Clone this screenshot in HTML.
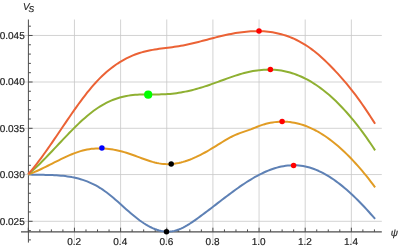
<!DOCTYPE html>
<html><head><meta charset="utf-8"><title>plot</title>
<style>html,body{margin:0;padding:0;background:#fff;}body{width:398px;height:249px;position:relative;overflow:hidden;font-family:"Liberation Sans",sans-serif;}</style>
</head><body>
<svg width="398" height="249" viewBox="0 0 398 249" style="position:absolute;left:0;top:0">
<path d="M74.45,19.5V242.6 M120.60,19.5V242.6 M166.75,19.5V242.6 M212.90,19.5V242.6 M259.05,19.5V242.6 M305.20,19.5V242.6 M351.35,19.5V242.6 M21,221.30H381.8 M21,174.55H381.8 M21,128.30H381.8 M21,82.00H381.8 M21,35.47H381.8" stroke="#c8c8c8" stroke-width="0.8" fill="none"/>
<path d="M28.4,19.5V242.6 M28.30,231.9v-4.2 M39.84,231.9v-2.5 M51.38,231.9v-2.5 M62.91,231.9v-2.5 M74.45,231.9v-4.2 M85.99,231.9v-2.5 M97.53,231.9v-2.5 M109.06,231.9v-2.5 M120.60,231.9v-4.2 M132.14,231.9v-2.5 M143.68,231.9v-2.5 M155.21,231.9v-2.5 M166.75,231.9v-4.2 M178.29,231.9v-2.5 M189.83,231.9v-2.5 M201.36,231.9v-2.5 M212.90,231.9v-4.2 M224.44,231.9v-2.5 M235.98,231.9v-2.5 M247.51,231.9v-2.5 M259.05,231.9v-4.2 M270.59,231.9v-2.5 M282.12,231.9v-2.5 M293.66,231.9v-2.5 M305.20,231.9v-4.2 M316.74,231.9v-2.5 M328.28,231.9v-2.5 M339.81,231.9v-2.5 M351.35,231.9v-4.2 M362.89,231.9v-2.5 M374.43,231.9v-2.5 M28.4,239.88h2.5 M28.4,230.59h2.5 M28.4,221.30h4.2 M28.4,211.95h2.5 M28.4,202.60h2.5 M28.4,193.25h2.5 M28.4,183.90h2.5 M28.4,174.55h4.2 M28.4,165.30h2.5 M28.4,156.05h2.5 M28.4,146.80h2.5 M28.4,137.55h2.5 M28.4,128.30h4.2 M28.4,119.04h2.5 M28.4,109.78h2.5 M28.4,100.52h2.5 M28.4,91.26h2.5 M28.4,82.00h4.2 M28.4,72.69h2.5 M28.4,63.39h2.5 M28.4,54.08h2.5 M28.4,44.78h2.5 M28.4,35.47h4.2 M28.4,26.18h2.5" stroke="#4d4d4d" stroke-width="1" fill="none"/>
<path d="M21,231.9H381.8" stroke="#4d4d4d" stroke-width="1.2" fill="none"/>
<path d="M28.20,174.53 L30.38,174.60 L32.56,174.66 L34.75,174.70 L36.93,174.74 L39.11,174.78 L41.29,174.81 L43.47,174.84 L45.65,174.88 L47.84,174.94 L50.02,175.00 L52.20,175.08 L54.38,175.18 L56.56,175.30 L58.74,175.45 L60.93,175.63 L63.11,175.85 L65.29,176.10 L67.47,176.39 L69.65,176.73 L71.84,177.11 L74.02,177.55 L76.20,178.04 L78.38,178.59 L80.56,179.19 L82.74,179.87 L84.93,180.61 L87.11,181.43 L89.29,182.32 L91.47,183.29 L93.65,184.34 L95.83,185.48 L98.02,186.71 L100.20,188.03 L102.38,189.44 L104.56,190.96 L106.74,192.57 L108.93,194.26 L111.11,196.02 L113.29,197.84 L115.47,199.71 L117.65,201.62 L119.83,203.55 L122.02,205.50 L124.20,207.45 L126.38,209.39 L128.56,211.31 L130.74,213.20 L132.92,215.05 L135.11,216.84 L137.29,218.56 L139.47,220.21 L141.65,221.77 L143.83,223.24 L146.02,224.60 L148.20,225.87 L150.38,227.02 L152.56,228.06 L154.74,228.97 L156.92,229.77 L159.11,230.42 L161.29,230.95 L163.47,231.33 L165.65,231.56 L167.83,231.63 L170.01,231.55 L172.20,231.30 L174.38,230.88 L176.56,230.29 L178.74,229.53 L180.92,228.62 L183.11,227.58 L185.29,226.41 L187.47,225.14 L189.65,223.78 L191.83,222.35 L194.01,220.87 L196.20,219.34 L198.38,217.77 L200.56,216.17 L202.74,214.56 L204.92,212.92 L207.10,211.27 L209.29,209.61 L211.47,207.94 L213.65,206.26 L215.83,204.59 L218.01,202.91 L220.19,201.23 L222.38,199.56 L224.56,197.89 L226.74,196.23 L228.92,194.59 L231.10,192.97 L233.29,191.36 L235.47,189.78 L237.65,188.22 L239.83,186.69 L242.01,185.18 L244.19,183.72 L246.38,182.28 L248.56,180.89 L250.74,179.54 L252.92,178.24 L255.10,176.98 L257.28,175.77 L259.47,174.62 L261.65,173.53 L263.83,172.49 L266.01,171.51 L268.19,170.61 L270.38,169.76 L272.56,168.98 L274.74,168.28 L276.92,167.64 L279.10,167.08 L281.28,166.58 L283.47,166.17 L285.65,165.83 L287.83,165.57 L290.01,165.38 L292.19,165.28 L294.37,165.26 L296.56,165.33 L298.74,165.47 L300.92,165.71 L303.10,166.04 L305.28,166.45 L307.47,166.95 L309.65,167.55 L311.83,168.23 L314.01,169.00 L316.19,169.86 L318.37,170.79 L320.56,171.81 L322.74,172.91 L324.92,174.09 L327.10,175.34 L329.28,176.67 L331.46,178.07 L333.65,179.54 L335.83,181.09 L338.01,182.70 L340.19,184.38 L342.37,186.12 L344.56,187.93 L346.74,189.80 L348.92,191.73 L351.10,193.71 L353.28,195.76 L355.46,197.86 L357.65,200.01 L359.83,202.21 L362.01,204.47 L364.19,206.77 L366.37,209.12 L368.55,211.52 L370.74,213.96 L372.92,216.44 L375.10,218.97" stroke="#5E81B5" stroke-width="2.0" fill="none" stroke-linejoin="round" stroke-linecap="butt"/>
<path d="M28.20,174.48 L30.38,173.68 L32.56,172.83 L34.75,171.93 L36.93,170.98 L39.11,169.99 L41.29,168.97 L43.47,167.93 L45.65,166.86 L47.84,165.77 L50.02,164.67 L52.20,163.57 L54.38,162.47 L56.56,161.37 L58.74,160.28 L60.93,159.21 L63.11,158.16 L65.29,157.13 L67.47,156.14 L69.65,155.18 L71.84,154.27 L74.02,153.41 L76.20,152.60 L78.38,151.85 L80.56,151.16 L82.74,150.55 L84.93,150.01 L87.11,149.55 L89.29,149.17 L91.47,148.86 L93.65,148.63 L95.83,148.48 L98.02,148.39 L100.20,148.38 L102.38,148.43 L104.56,148.54 L106.74,148.72 L108.93,148.96 L111.11,149.26 L113.29,149.61 L115.47,150.02 L117.65,150.48 L119.83,150.99 L122.02,151.55 L124.20,152.16 L126.38,152.81 L128.56,153.50 L130.74,154.23 L132.92,155.00 L135.11,155.79 L137.29,156.59 L139.47,157.41 L141.65,158.21 L143.83,159.01 L146.02,159.78 L148.20,160.52 L150.38,161.21 L152.56,161.86 L154.74,162.44 L156.92,162.95 L159.11,163.38 L161.29,163.72 L163.47,163.96 L165.65,164.09 L167.83,164.13 L170.01,164.07 L172.20,163.91 L174.38,163.67 L176.56,163.34 L178.74,162.93 L180.92,162.43 L183.11,161.86 L185.29,161.21 L187.47,160.49 L189.65,159.70 L191.83,158.84 L194.01,157.92 L196.20,156.95 L198.38,155.91 L200.56,154.82 L202.74,153.68 L204.92,152.50 L207.10,151.27 L209.29,150.00 L211.47,148.70 L213.65,147.37 L215.83,146.04 L218.01,144.69 L220.19,143.35 L222.38,142.01 L224.56,140.69 L226.74,139.41 L228.92,138.16 L231.10,136.99 L233.29,135.88 L235.47,134.88 L237.65,133.98 L239.83,133.16 L242.01,132.39 L244.19,131.65 L246.38,130.91 L248.56,130.15 L250.74,129.34 L252.92,128.47 L255.10,127.58 L257.28,126.70 L259.47,125.87 L261.65,125.10 L263.83,124.42 L266.01,123.81 L268.19,123.27 L270.38,122.81 L272.56,122.43 L274.74,122.12 L276.92,121.89 L279.10,121.73 L281.28,121.65 L283.47,121.65 L285.65,121.72 L287.83,121.87 L290.01,122.09 L292.19,122.40 L294.37,122.77 L296.56,123.23 L298.74,123.76 L300.92,124.36 L303.10,125.05 L305.28,125.81 L307.47,126.64 L309.65,127.56 L311.83,128.55 L314.01,129.61 L316.19,130.75 L318.37,131.96 L320.56,133.24 L322.74,134.60 L324.92,136.03 L327.10,137.53 L329.28,139.10 L331.46,140.74 L333.65,142.45 L335.83,144.23 L338.01,146.07 L340.19,147.99 L342.37,149.97 L344.56,152.01 L346.74,154.13 L348.92,156.30 L351.10,158.55 L353.28,160.85 L355.46,163.22 L357.65,165.65 L359.83,168.15 L362.01,170.70 L364.19,173.32 L366.37,175.99 L368.55,178.73 L370.74,181.52 L372.92,184.38 L375.10,187.28" stroke="#E19C24" stroke-width="2.0" fill="none" stroke-linejoin="round" stroke-linecap="butt"/>
<path d="M28.20,174.48 L30.38,172.59 L32.56,170.63 L34.75,168.61 L36.93,166.54 L39.11,164.42 L41.29,162.26 L43.47,160.06 L45.65,157.83 L47.84,155.57 L50.02,153.28 L52.20,150.98 L54.38,148.67 L56.56,146.35 L58.74,144.02 L60.93,141.70 L63.11,139.39 L65.29,137.10 L67.47,134.82 L69.65,132.56 L71.84,130.34 L74.02,128.14 L76.20,125.99 L78.38,123.88 L80.56,121.82 L82.74,119.82 L84.93,117.88 L87.11,116.00 L89.29,114.19 L91.47,112.46 L93.65,110.81 L95.83,109.24 L98.02,107.77 L100.20,106.38 L102.38,105.07 L104.56,103.85 L106.74,102.72 L108.93,101.66 L111.11,100.69 L113.29,99.79 L115.47,98.97 L117.65,98.23 L119.83,97.57 L122.02,96.97 L124.20,96.45 L126.38,96.00 L128.56,95.62 L130.74,95.30 L132.92,95.04 L135.11,94.84 L137.29,94.68 L139.47,94.57 L141.65,94.49 L143.83,94.44 L146.02,94.42 L148.20,94.41 L150.38,94.41 L152.56,94.41 L154.74,94.42 L156.92,94.41 L159.11,94.40 L161.29,94.36 L163.47,94.30 L165.65,94.20 L167.83,94.07 L170.01,93.90 L172.20,93.69 L174.38,93.44 L176.56,93.15 L178.74,92.82 L180.92,92.46 L183.11,92.07 L185.29,91.64 L187.47,91.18 L189.65,90.69 L191.83,90.16 L194.01,89.60 L196.20,89.02 L198.38,88.40 L200.56,87.76 L202.74,87.09 L204.92,86.40 L207.10,85.68 L209.29,84.94 L211.47,84.18 L213.65,83.40 L215.83,82.62 L218.01,81.82 L220.19,81.03 L222.38,80.23 L224.56,79.44 L226.74,78.65 L228.92,77.88 L231.10,77.12 L233.29,76.37 L235.47,75.65 L237.65,74.95 L239.83,74.29 L242.01,73.65 L244.19,73.05 L246.38,72.49 L248.56,71.97 L250.74,71.50 L252.92,71.08 L255.10,70.71 L257.28,70.39 L259.47,70.13 L261.65,69.92 L263.83,69.76 L266.01,69.66 L268.19,69.61 L270.38,69.63 L272.56,69.70 L274.74,69.83 L276.92,70.03 L279.10,70.28 L281.28,70.60 L283.47,70.99 L285.65,71.43 L287.83,71.95 L290.01,72.53 L292.19,73.19 L294.37,73.91 L296.56,74.70 L298.74,75.56 L300.92,76.50 L303.10,77.50 L305.28,78.58 L307.47,79.72 L309.65,80.94 L311.83,82.23 L314.01,83.59 L316.19,85.02 L318.37,86.52 L320.56,88.10 L322.74,89.74 L324.92,91.45 L327.10,93.24 L329.28,95.09 L331.46,97.02 L333.65,99.02 L335.83,101.08 L338.01,103.22 L340.19,105.43 L342.37,107.71 L344.56,110.06 L346.74,112.48 L348.92,114.98 L351.10,117.54 L353.28,120.17 L355.46,122.88 L357.65,125.65 L359.83,128.50 L362.01,131.41 L364.19,134.40 L366.37,137.45 L368.55,140.58 L370.74,143.78 L372.92,147.05 L375.10,150.39" stroke="#8FB032" stroke-width="2.0" fill="none" stroke-linejoin="round" stroke-linecap="butt"/>
<path d="M28.20,174.26 L30.38,171.72 L32.56,169.09 L34.75,166.37 L36.93,163.58 L39.11,160.71 L41.29,157.78 L43.47,154.78 L45.65,151.74 L47.84,148.65 L50.02,145.52 L52.20,142.36 L54.38,139.17 L56.56,135.97 L58.74,132.75 L60.93,129.52 L63.11,126.30 L65.29,123.08 L67.47,119.88 L69.65,116.69 L71.84,113.54 L74.02,110.41 L76.20,107.33 L78.38,104.29 L80.56,101.31 L82.74,98.38 L84.93,95.53 L87.11,92.74 L89.29,90.04 L91.47,87.42 L93.65,84.89 L95.83,82.46 L98.02,80.14 L100.20,77.92 L102.38,75.79 L104.56,73.77 L106.74,71.83 L108.93,69.99 L111.11,68.25 L113.29,66.59 L115.47,65.02 L117.65,63.54 L119.83,62.14 L122.02,60.82 L124.20,59.59 L126.38,58.43 L128.56,57.35 L130.74,56.34 L132.92,55.41 L135.11,54.55 L137.29,53.76 L139.47,53.03 L141.65,52.37 L143.83,51.77 L146.02,51.23 L148.20,50.74 L150.38,50.29 L152.56,49.89 L154.74,49.52 L156.92,49.18 L159.11,48.86 L161.29,48.56 L163.47,48.27 L165.65,48.00 L167.83,47.72 L170.01,47.44 L172.20,47.16 L174.38,46.86 L176.56,46.54 L178.74,46.20 L180.92,45.82 L183.11,45.42 L185.29,44.99 L187.47,44.53 L189.65,44.05 L191.83,43.55 L194.01,43.02 L196.20,42.49 L198.38,41.94 L200.56,41.38 L202.74,40.81 L204.92,40.23 L207.10,39.66 L209.29,39.08 L211.47,38.51 L213.65,37.94 L215.83,37.38 L218.01,36.83 L220.19,36.29 L222.38,35.77 L224.56,35.27 L226.74,34.79 L228.92,34.34 L231.10,33.90 L233.29,33.49 L235.47,33.11 L237.65,32.76 L239.83,32.44 L242.01,32.15 L244.19,31.89 L246.38,31.67 L248.56,31.49 L250.74,31.34 L252.92,31.24 L255.10,31.17 L257.28,31.15 L259.47,31.17 L261.65,31.24 L263.83,31.36 L266.01,31.53 L268.19,31.75 L270.38,32.02 L272.56,32.35 L274.74,32.73 L276.92,33.17 L279.10,33.67 L281.28,34.23 L283.47,34.85 L285.65,35.54 L287.83,36.29 L290.01,37.11 L292.19,38.00 L294.37,38.95 L296.56,39.99 L298.74,41.09 L300.92,42.27 L303.10,43.53 L305.28,44.86 L307.47,46.28 L309.65,47.77 L311.83,49.35 L314.01,51.02 L316.19,52.77 L318.37,54.60 L320.56,56.51 L322.74,58.50 L324.92,60.54 L327.10,62.65 L329.28,64.81 L331.46,67.02 L333.65,69.28 L335.83,71.58 L338.01,73.93 L340.19,76.33 L342.37,78.79 L344.56,81.32 L346.74,83.91 L348.92,86.57 L351.10,89.30 L353.28,92.10 L355.46,94.97 L357.65,97.92 L359.83,100.93 L362.01,104.01 L364.19,107.16 L366.37,110.38 L368.55,113.65 L370.74,116.99 L372.92,120.37 L375.10,123.81" stroke="#EB6235" stroke-width="2.0" fill="none" stroke-linejoin="round" stroke-linecap="butt"/>
<circle cx="259" cy="31.0" r="2.75" fill="#ff0000"/>
<circle cx="270.4" cy="69.6" r="2.75" fill="#ff0000"/>
<circle cx="282.1" cy="121.6" r="2.75" fill="#ff0000"/>
<circle cx="293.6" cy="165.4" r="2.75" fill="#ff0000"/>
<circle cx="148.2" cy="94.65" r="4.1" fill="#00ff00"/>
<circle cx="101.9" cy="147.95" r="2.75" fill="#0000ff"/>
<circle cx="171.2" cy="163.9" r="2.75" fill="#000000"/>
<circle cx="166.5" cy="231.7" r="2.75" fill="#000000"/>
<g style="will-change:transform;text-rendering:geometricPrecision" font-family="Liberation Sans, sans-serif" font-size="10" fill="#222222" stroke="#222222" stroke-width="0.2">
<text x="24.7" y="224.55" text-anchor="end">0.025</text>
<text x="24.7" y="177.80" text-anchor="end">0.030</text>
<text x="24.7" y="131.55" text-anchor="end">0.035</text>
<text x="24.7" y="85.25" text-anchor="end">0.040</text>
<text x="24.7" y="38.72" text-anchor="end">0.045</text>
<text x="74.10" y="245" text-anchor="middle">0.2</text>
<text x="120.25" y="245" text-anchor="middle">0.4</text>
<text x="166.40" y="245" text-anchor="middle">0.6</text>
<text x="212.55" y="245" text-anchor="middle">0.8</text>
<text x="258.70" y="245" text-anchor="middle">1.0</text>
<text x="304.85" y="245" text-anchor="middle">1.2</text>
<text x="351.00" y="245" text-anchor="middle">1.4</text>
</g>
<g style="will-change:transform;text-rendering:geometricPrecision" font-family="Liberation Sans, sans-serif" font-style="italic" fill="#222222" stroke="#222222" stroke-width="0.15">
<text x="23.1" y="9.9" font-size="9.7">V<tspan font-size="8.5" dx="-1.1" dy="2.1">S</tspan></text>
<text x="390.7" y="236.0" font-size="10">ψ</text>
</g>
</svg>
</body></html>
